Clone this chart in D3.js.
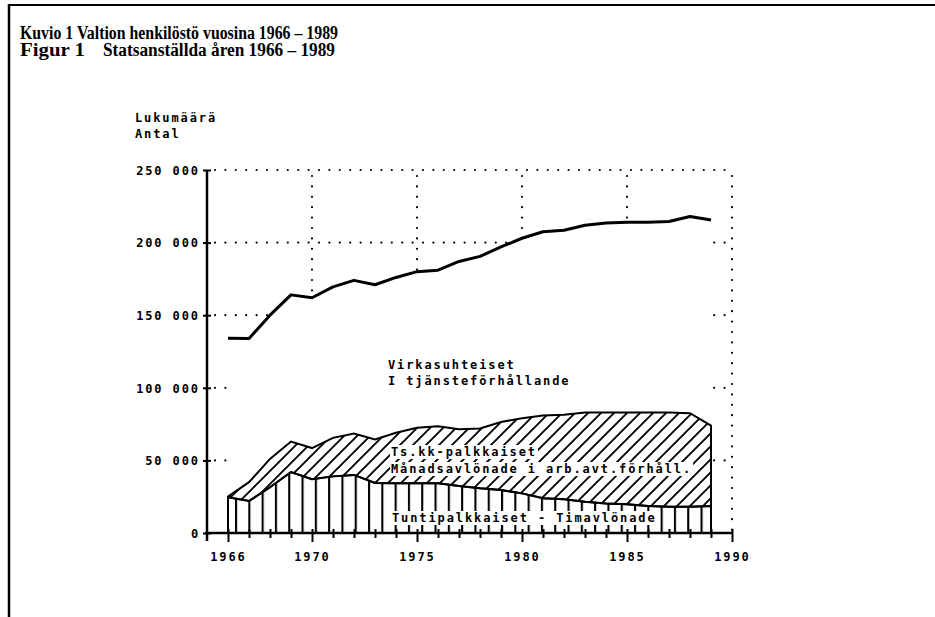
<!DOCTYPE html>
<meta charset="utf-8">
<script src="https://d3js.org/d3.v7.min.js"></script>
<style>
  body { margin: 0; background: #fff; }
  .mono { font-family: "DejaVu Sans Mono", monospace; font-weight: bold; font-size: 12px; letter-spacing: 1.9px; }
  .title { font-family: "Liberation Serif", serif; font-weight: bold; font-size: 18px; }
</style>
<div id="chart"></div>
<script>
    // vuodet ja sarjat (luettu kuvasta)
    const years = [1966, 1967, 1968, 1969, 1970, 1971, 1972, 1973, 1974, 1975, 1976, 1977,
                   1978, 1979, 1980, 1981, 1982, 1983, 1984, 1985, 1986, 1987, 1988, 1989];
    const hourly = [24600, 22000, 31500, 42000, 37000, 39000, 40000, 34500, 34200, 34200, 34200, 32400,
                    30800, 29600, 27300, 24000, 23200, 21600, 20400, 19800, 18600, 18100, 18100, 18600];
    const monthly = [500, 13000, 19500, 21000, 21500, 26500, 28500, 30000, 34800, 38300, 39300, 39100,
                     41200, 46900, 51700, 57000, 58300, 61400, 62600, 63200, 64400, 64900, 64400, 55400];
    const civil = [109000, 99000, 99000, 101000, 103500, 104000, 105500, 106500, 107000, 107500, 107500, 115500,
                   118500, 120500, 124000, 126500, 127000, 129000, 130500, 131000, 131000, 131500, 135500, 141500];

    const yTicks = [0, 50000, 100000, 150000, 200000, 250000];
    const yTickLabels = ["0", "50 000", "100 000", "150 000", "200 000", "250 000"];
    const xTicks = [1966, 1970, 1975, 1980, 1985, 1990];
    const gridYears = [1970, 1975, 1980, 1985, 1990];

    const W = 935, H = 617;
    const svg = d3.select("#chart").append("svg")
        .attr("width", W).attr("height", H);

    // kehys
    svg.append("line").attr("x1", 9).attr("x2", W).attr("y1", 5).attr("y2", 5)
        .attr("stroke", "#000").attr("stroke-width", 2);
    svg.append("line").attr("x1", 9).attr("x2", 9).attr("y1", 4).attr("y2", H)
        .attr("stroke", "#000").attr("stroke-width", 2.5);

    // otsikot
    svg.append("text").attr("class", "title").attr("x", 20).attr("y", 39)
        .attr("textLength", 318).attr("lengthAdjust", "spacingAndGlyphs")
        .text("Kuvio 1 Valtion henkilöstö vuosina 1966 – 1989");
    svg.append("text").attr("class", "title").attr("x", 20).attr("y", 56)
        .attr("textLength", 65).attr("lengthAdjust", "spacingAndGlyphs")
        .text("Figur 1");
    svg.append("text").attr("class", "title").attr("x", 103).attr("y", 56)
        .attr("textLength", 232).attr("lengthAdjust", "spacingAndGlyphs")
        .text("Statsanställda åren 1966 – 1989");

    const x = d3.scaleLinear().domain([1965, 1990]).range([207, 732]);
    const y = d3.scaleLinear().domain([0, 250000]).range([533, 170]);

    const data = years.map((yr, i) => ({year: yr, hourly: hourly[i], monthly: monthly[i], civil: civil[i]}));
    const stack = d3.stack().keys(["hourly", "monthly", "civil"])(data);

    // kuviot
    const defs = svg.append("defs");
    defs.append("pattern").attr("id", "vert").attr("patternUnits", "userSpaceOnUse")
        .attr("x", 235).attr("width", 13.3).attr("height", 10)
      .append("line").attr("x1", 1).attr("x2", 1).attr("y1", 0).attr("y2", 10)
        .attr("stroke", "#000").attr("stroke-width", 2.2);
    const d = 13;
    defs.append("pattern").attr("id", "diag").attr("patternUnits", "userSpaceOnUse")
        .attr("width", d).attr("height", d)
      .append("path").attr("d", `M0,${d} L${d},0 M-2,2 L2,-2 M${d-2},${d+2} L${d+2},${d-2}`)
        .attr("stroke", "#000").attr("stroke-width", 1.9);

    // pisteviivat
    const dots = svg.append("g").attr("stroke", "#000").attr("stroke-width", 2.2)
        .attr("stroke-linecap", "round").attr("stroke-dasharray", "0 10.4");
    yTicks.slice(1).forEach(v => {
        dots.append("line").attr("x1", x(1965) + 8).attr("x2", x(1990)).attr("y1", y(v)).attr("y2", y(v));
    });
    gridYears.forEach(v => {
        dots.append("line").attr("x1", x(v)).attr("x2", x(v)).attr("y1", y(250000) + 6).attr("y2", y(0));
    });

    // valkoinen pohja viivan alle
    svg.append("path").datum(stack[2])
        .attr("fill", "#fff")
        .attr("d", d3.area().x(p => x(p.data.year)).y0(y(0)).y1(p => y(p[1])));

    // tuntipalkkaiset
    const areaH = d3.area().x(p => x(p.data.year)).y0(y(0)).y1(p => y(p[1]));
    svg.append("path").datum(stack[0])
        .attr("fill", "url(#vert)").attr("stroke", "#000").attr("stroke-width", 2)
        .attr("d", areaH);

    // kuukausipalkkaiset
    const areaM = d3.area().x(p => x(p.data.year)).y0(p => y(p[0])).y1(p => y(p[1]));
    svg.append("path").datum(stack[1])
        .attr("fill", "url(#diag)").attr("stroke", "#000").attr("stroke-width", 2)
        .attr("d", areaM);

    // kokonaismäärä
    svg.append("path").datum(stack[2])
        .attr("fill", "none").attr("stroke", "#000").attr("stroke-width", 3)
        .attr("stroke-linejoin", "round")
        .attr("d", d3.line().x(p => x(p.data.year)).y(p => y(p[1])));

    // selitteet
    function label(tx, ty, str, box) {
        const t = svg.append("text").attr("class", "mono").attr("x", tx).attr("y", ty).text(str);
        if (box) {
            const b = t.node().getBBox();
            svg.insert("rect", () => t.node())
                .attr("x", b.x - 1).attr("y", b.y).attr("width", b.width + 2).attr("height", b.height)
                .attr("fill", "#fff");
        }
    }
    label(388, 369, "Virkasuhteiset", false);
    label(388, 385, "I tjänsteförhållande", false);
    label(391, 456, "Ts.kk-palkkaiset", true);
    label(391, 473, "Månadsavlönade i arb.avt.förhåll.", true);
    label(392, 522, "Tuntipalkkaiset - Timavlönade", true);
    label(135, 122, "Lukumäärä", false);
    label(135, 138, "Antal", false);

    // akselit
    const yAxis = svg.append("g").attr("transform", `translate(${x(1965)},0)`)
        .call(d3.axisLeft(y).tickValues(yTicks).tickFormat((v, i) => yTickLabels[i]).tickSizeOuter(0));
    yAxis.select(".domain").attr("d", `M0,${y(250000)}V${y(0) + 8}`).attr("stroke-width", 2.5);
    yAxis.selectAll(".tick line").attr("x1", 4).attr("x2", -4).attr("stroke-width", 2);
    yAxis.selectAll(".tick text").attr("class", "mono").attr("x", -7).attr("dy", "0.35em")
        .attr("font-family", null).attr("font-size", null);

    const xAxis = svg.append("g").attr("transform", `translate(0,${y(0)})`)
        .call(d3.axisBottom(x).tickValues(d3.range(1966, 1991)).tickFormat(v => xTicks.includes(v) ? v : "").tickSizeOuter(0));
    xAxis.select(".domain").attr("d", `M${x(1965) - 2},0H${x(1990)}`).attr("stroke-width", 2.5);
    xAxis.selectAll(".tick line").attr("y1", -4).attr("y2", d => xTicks.includes(d) ? 9 : 5).attr("stroke-width", 2);
    xAxis.selectAll(".tick text").attr("class", "mono").attr("y", 0).attr("dy", 28)
        .attr("font-family", null).attr("font-size", null);
</script>
